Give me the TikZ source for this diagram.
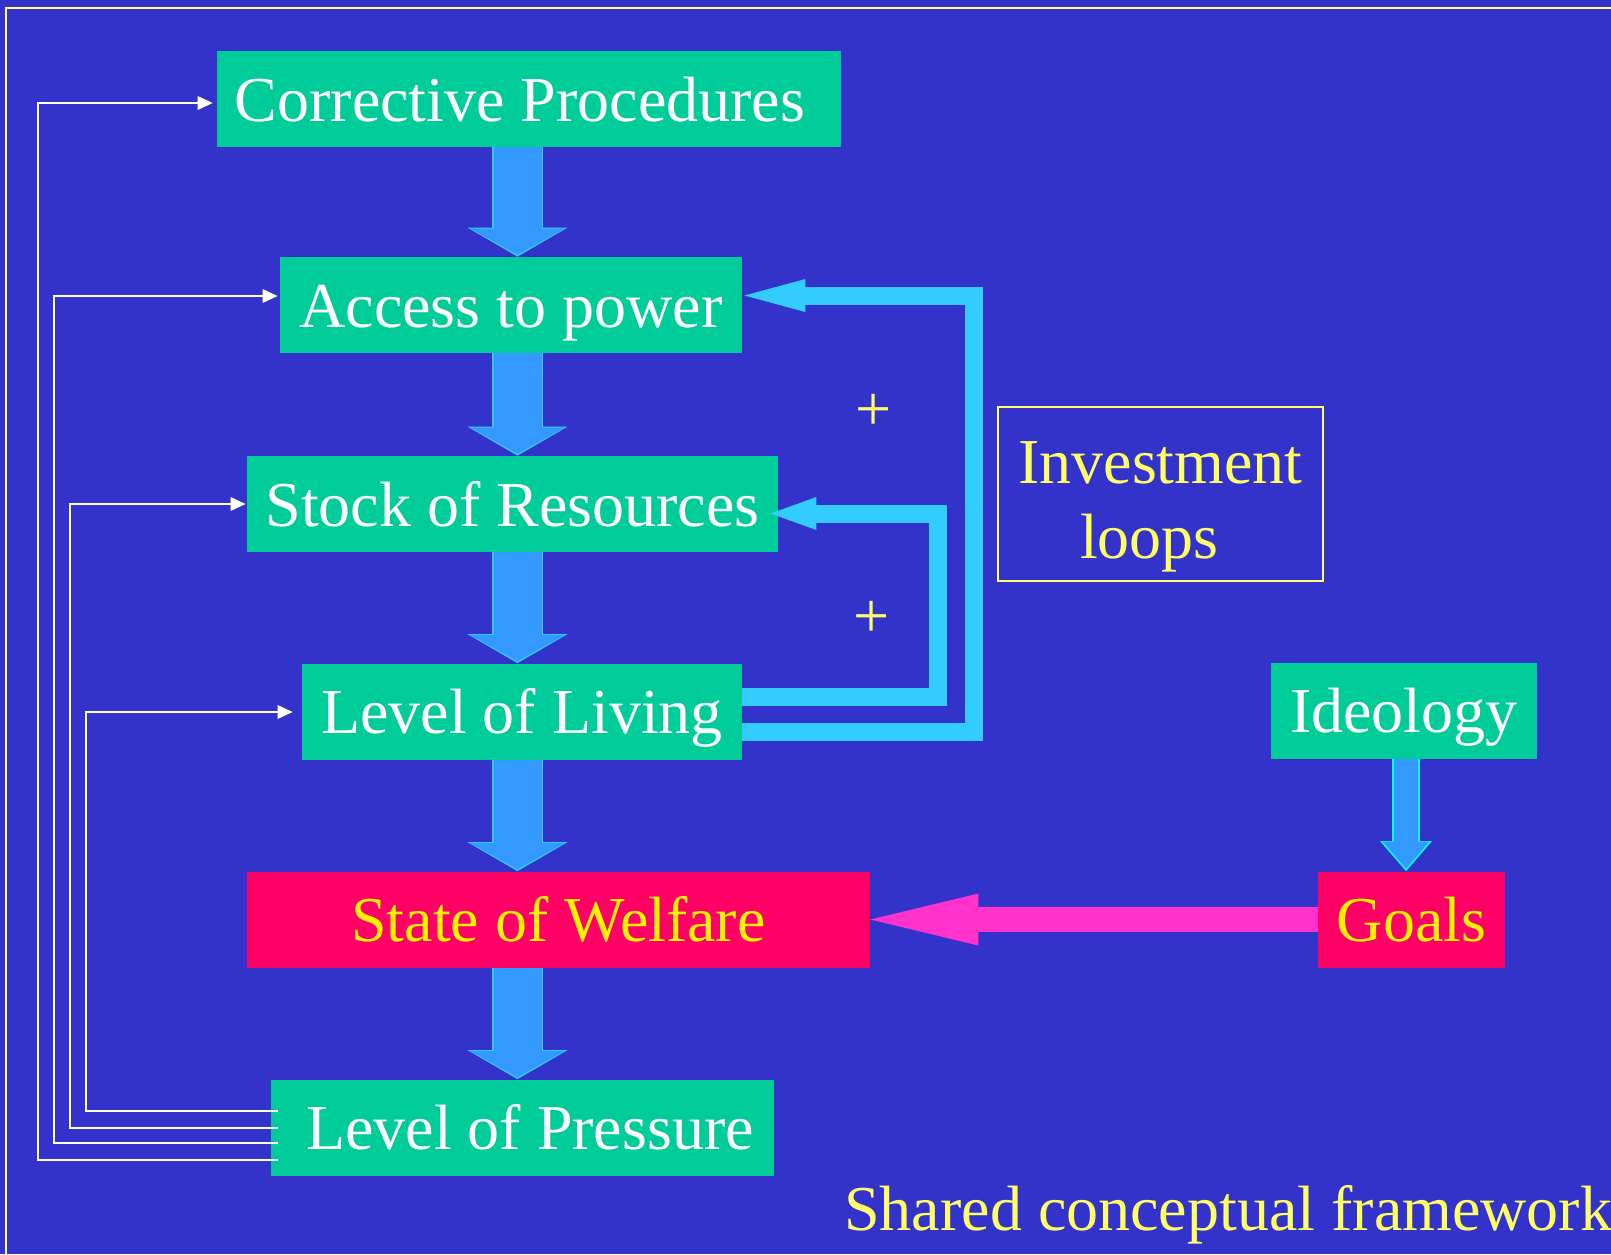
\documentclass[tikz,border=0pt]{standalone}
\usepackage{fontspec}
\setmainfont{Liberation Serif}
\usepackage{tikz}
\usetikzlibrary{arrows.meta, calc}
\definecolor{slideblue}{HTML}{3333CC}
\definecolor{boxgreen}{HTML}{00CC99}
\definecolor{hotred}{HTML}{FF0066}
\definecolor{flowblue}{HTML}{3399FF}
\definecolor{flowedge}{HTML}{33CCFF}
\definecolor{ideoedge}{HTML}{00FFFF}
\definecolor{loopcyan}{HTML}{33CCFF}
\definecolor{goalpink}{HTML}{FF33CC}
\definecolor{paleyellow}{HTML}{FFFF66}
\newcommand{\yel}[1]{\textcolor{yellow}{#1}}
\newcommand{\slidefont}{\fontsize{32}{37.75}\selectfont}

\begin{document}
\begin{tikzpicture}[x=0.5pt, y=-0.5pt,
        box/.style={fill=boxgreen, text=white, font=\slidefont, inner sep=0pt,
            minimum height=48pt, text height=22pt, text depth=0pt},
        hotbox/.style={box, fill=hotred},
        note/.style={draw=paleyellow, line width=1pt, text=paleyellow, font=\slidefont,
            align=center, inner sep=0pt},
        sign/.style={text=paleyellow, font=\slidefont, inner sep=0pt},
        flow/.style={draw=flowblue, line width=24pt, shorten >=1pt,
            -{Triangle[length=13pt, width=47pt, line width=0pt, fill=flowblue]},
            preaction={draw=flowedge, line width=25.5pt, shorten >=0pt,
                -{Triangle[length=14.5pt, width=50pt, line width=0pt, color=flowedge, fill=flowedge]}}},
        smallflow/.style={draw=flowblue, line width=12pt, shorten >=1.2pt,
            -{Triangle[length=13.5pt, width=23pt, line width=0pt, fill=flowblue]},
            preaction={draw=ideoedge, line width=14pt, shorten >=0pt,
                -{Triangle[length=15pt, width=26pt, line width=0pt, color=ideoedge, fill=ideoedge]}}},
        loopline/.style={draw=loopcyan, line width=9pt},
        feedback/.style={draw=white, line width=1pt,
            -{Triangle[length=7.5pt, width=7pt, line width=0pt, fill=white]}}]
    \useasboundingbox (0,0) rectangle (1611,1254);
    \fill[slideblue] (0,0) rectangle (1611,1254);
    \draw[paleyellow, line width=1pt] (6,1254) -- (6,7.5) -- (1611,7.5);

    \node[box, minimum width=312pt] (corr) at (529,99) {Corrective Procedures\hspace*{9pt}};
    \node[box, minimum width=231pt] (access) at (511,305) {Access to power};
    \node[box, minimum width=265.5pt] (stock) at (512.5,504) {Stock of Resources};
    \node[box, minimum width=220pt] (living) at (522,711.5) {Level of Living};
    \node[hotbox, minimum width=311.5pt] (welfare) at (558.5,919.5) {\yel{State of Welfare}};
    \node[box, minimum width=251.5pt] (pressure) at (522.5,1127.5) {\hspace*{7.5pt}Level of Pressure};

    \node[box, minimum width=133pt] (ideology) at (1404,710.5) {Ideology};
    \node[hotbox, minimum width=93.5pt] (goals) at (1411.5,919.5) {\yel{Goals}};

    \node[note, minimum width=162.5pt, minimum height=87pt] (invest) at (1160.5,494)
        {\rule{0pt}{34pt}Investment\\loops\hspace*{11pt}};
    \node[sign] (plusA) at (874,412) {+};
    \node[sign] (plusB) at (872,619) {+};
    \node[sign, anchor=base west] (title) at (844,1230) {Shared conceptual framework};

    \coordinate (spine) at (517.5,0);
    \coordinate (ideoaxis) at (1406,0);

    \draw[flow] (corr.south -| spine) -- (access.north -| spine);
    \draw[flow] (access.south -| spine) -- (stock.north -| spine);
    \draw[flow] (stock.south -| spine) -- (living.north -| spine);
    \draw[flow] (living.south -| spine) -- (welfare.north -| spine);
    \draw[flow] (welfare.south -| spine) -- (pressure.north -| spine);
    \draw[smallflow] (ideology.south -| ideoaxis) -- (goals.north -| ideoaxis);

    \draw[draw=goalpink, line width=12.5pt,
        -{Triangle[length=54pt, width=26pt, line width=0pt, fill=goalpink]}] (goals.west) -- (welfare.east);

    \draw[loopline, -{Triangle[length=30.5pt, width=16.5pt, line width=0pt, fill=loopcyan]}]
        ($(living.east)+(0,20.5)$) -| ($(access.east)+(232,-9.5)$) -- ($(access.east)+(2,-9.5)$);
    \draw[loopline, -{Triangle[length=23pt, width=16.5pt, line width=0pt, fill=loopcyan]}]
        ($(living.east)+(0,-15)$) -| ($(stock.east)+(160,9.5)$) -- ($(stock.east)+(-8,9.5)$);

    \draw[feedback] ($(pressure.west)+(7,32.5)$) -- ++(-240,0) |- ($(corr.west)+(-4,4)$);
    \draw[feedback] ($(pressure.west)+(7,15.5)$) -- ++(-224,0) |- ($(access.west)+(-2,-9)$);
    \draw[feedback] ($(pressure.west)+(7,0.5)$) -- ++(-208,0) |- ($(stock.west)+(-1,0)$);
    \draw[feedback] ($(pressure.west)+(7,-16.5)$) -- ++(-192,0) |- ($(living.west)+(-9,0.5)$);
\end{tikzpicture}
\end{document}
